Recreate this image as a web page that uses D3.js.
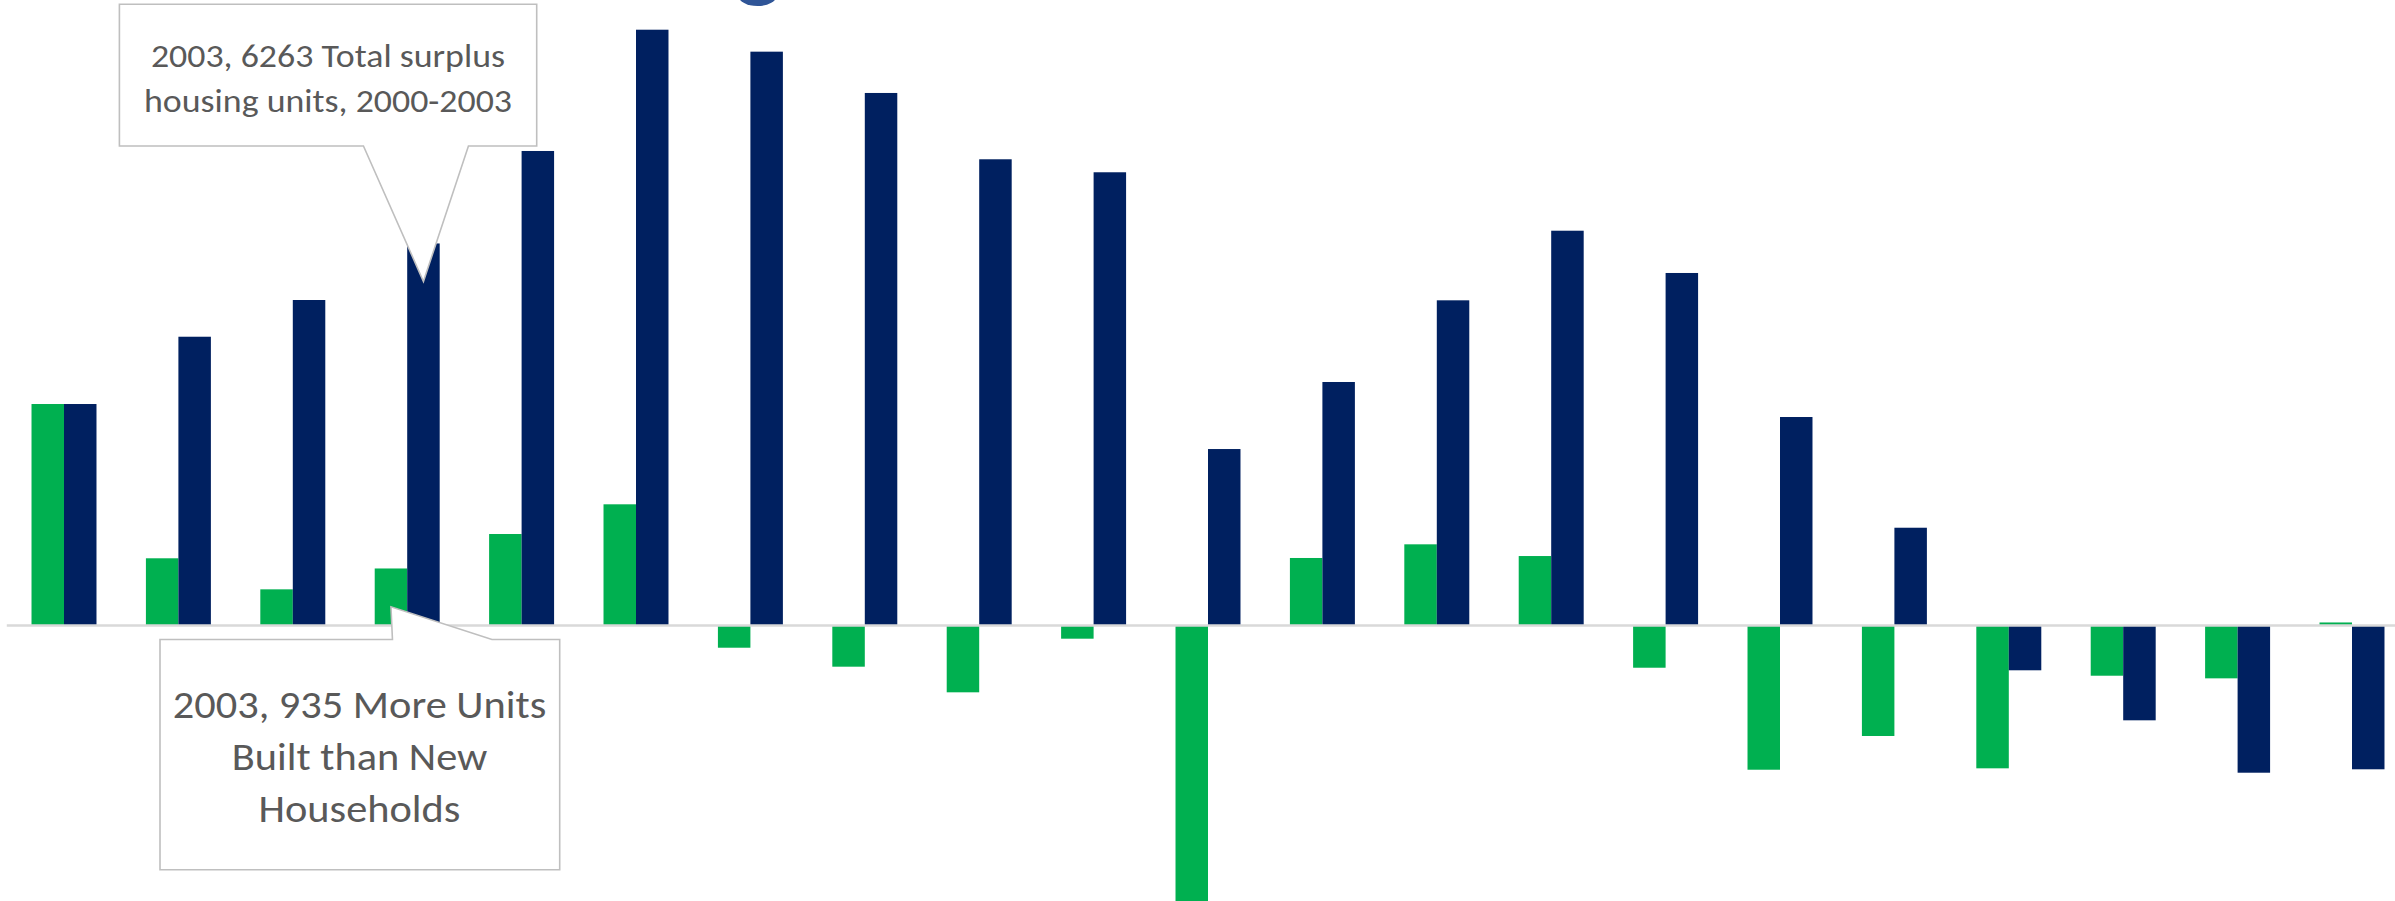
<!DOCTYPE html>
<html><head><meta charset="utf-8">
<script src="https://cdn.jsdelivr.net/npm/d3@7"></script>
<style>html,body{margin:0;padding:0;background:#fff;overflow:hidden}</style>
</head><body>
<svg id="chart" width="2395" height="901"></svg>
<script>
// ---- data ----
const years = [2000,2001,2002,2003,2004,2005,2006,2007,2008,2009,2010,2011,2012,2013,2014,2015,2016,2017,2018,2019,2020];
// annual: units built minus new households (green)
const annualSurplus = [3631,1102,593,935,1500,1987,-364,-675,-1095,-216,-4540,1107,1331,1139,-692,-2364,-1811,-2341,-823,-866,50];
// cumulative surplus since 2000 (navy)
const cumulativeSurplus = [3631,4734,5336,6263,7779,9767,9407,8730,7643,7430,2893,3992,5331,6472,5779,3418,1603,-734,-1554,-2413,-2357];
const seriesKeys = ["annual","cumulative"];
const yDomain = [-4516, 10254];
const callout1Lines = ["2003, 6263 Total surplus","housing units, 2000-2003"];
const callout2Lines = ["2003, 935 More Units","Built than New","Households"];

// ---- drawing ----
const W = 2395, H = 901;
const colors = {annual:"#00B050", cumulative:"#002060"};
const svg = d3.select("#chart");
svg.append("rect").attr("width",W).attr("height",H).attr("fill","#fff");

const x0 = d3.scaleBand().domain(years).range([6.8, 2409.2]).paddingInner(0.432).paddingOuter(0.216);
const x1 = d3.scaleBand().domain(seriesKeys).range([0, x0.bandwidth()]);
const y = d3.scaleLinear().domain(yDomain).range([H, 0]);

const rows = years.map((yr,i)=>({year:yr, annual:annualSurplus[i], cumulative:cumulativeSurplus[i]}));

const g = svg.append("g");
g.selectAll("g.grp").data(rows).join("g").attr("class","grp")
  .attr("transform", d=>`translate(${x0(d.year)},0)`)
  .selectAll("rect").data(d=>seriesKeys.map(k=>({k, v:d[k]}))).join("rect")
  .attr("x", d=>x1(d.k))
  .attr("width", x1.bandwidth())
  .attr("y", d=>Math.min(y(d.v), y(0)))
  .attr("height", d=>Math.abs(y(d.v)-y(0)))
  .attr("fill", d=>colors[d.k]);

// zero axis line
svg.append("line")
  .attr("x1", x0.range()[0]).attr("x2", W)
  .attr("y1", y(0)).attr("y2", y(0))
  .attr("stroke","#D9D9D9").attr("stroke-width",2.4);

// cropped title fragment at top
svg.append("ellipse").attr("cx",757.5).attr("cy",-5).attr("rx",19.5).attr("ry",11).attr("fill","#2F5597");

// ---- callouts ----
const fontFamily = "Carlito, Calibri, Lato, 'Open Sans', sans-serif";
function callout(poly, lines, cx, baselines, targetWidth, fontSize){
  svg.append("path")
    .attr("d", d3.line()(poly) + "Z")
    .attr("fill","#fff").attr("stroke","#BFBFBF").attr("stroke-width",1.6);
  const t = svg.append("text").attr("font-family",fontFamily).attr("fill","#595959")
    .attr("text-anchor","middle").attr("font-size",fontSize);
  const tspans = t.selectAll("tspan").data(lines).join("tspan")
    .attr("x", cx).attr("y",(d,i)=>baselines[i]).text(d=>d);
  const widths = tspans.nodes().map(n=>n.getComputedTextLength());
  const f = targetWidth / d3.max(widths);
  tspans.attr("textLength",(d,i)=>widths[i]*f).attr("lengthAdjust","spacingAndGlyphs");
}

const idx2003 = years.indexOf(2003);
const tip1 = [x0(2003)+x1("cumulative")+x1.bandwidth()/2, y(cumulativeSurplus[idx2003])+38];
callout([[119.4,4.3],[536.7,4.3],[536.7,146],[tip1[0]+45,146],tip1,[tip1[0]-60,146],[119.4,146]],
  callout1Lines, 328, [66.7,111.7], 368, 33.5);

const tip2 = [x0(2003)+x1("annual")+x1.bandwidth()/2, y(annualSurplus[idx2003])+38.3];
callout([[160,639.5],[tip2[0]+1.5,639.5],tip2,[tip2[0]+101,639.5],[559.7,639.5],[559.7,869.7],[160,869.7]],
  callout2Lines, 359.5, [718.3,770,821.7], 373.5, 38.5);
</script>
</body></html>
